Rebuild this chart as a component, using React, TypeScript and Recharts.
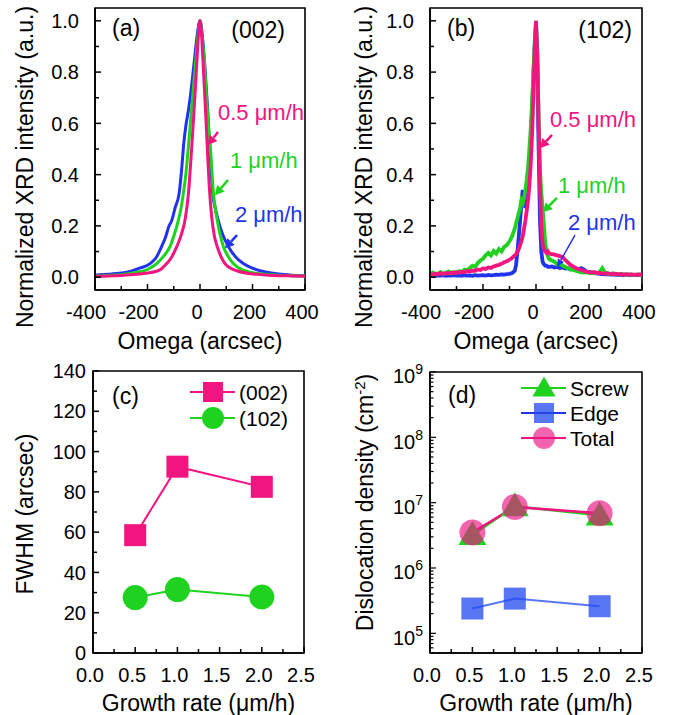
import React from 'react';
import { LineChart, Line, XAxis, YAxis, Label, Legend, ReferenceLine, ReferenceDot, ReferenceArea } from 'recharts';

const FONT = '"Liberation Sans", Arial, Helvetica, sans-serif';
const PINK = '#f2147f';
const GREEN = '#1fd21f';
const BLUE = '#2233ee';
const TICK_FS = 20;
const LABEL_FS = 23;
const ANNO_FS = 22;
const PANEL_FS = 23;

// ---------- Panel (a): (002) rocking curves ----------
const a05Omega = [-400, -350, -300, -250, -200, -170, -150, -127, -110, -89, -70, -57, -44, -32, -22, -12, -5, 0, 5, 12, 22, 28, 35, 44, 55, 66, 80, 95, 115, 140, 180, 220, 260, 300, 350, 400];
const a05Int = [0.004, 0.005, 0.007, 0.01, 0.016, 0.022, 0.03, 0.053, 0.075, 0.118, 0.17, 0.223, 0.327, 0.5, 0.66, 0.84, 0.96, 1.0, 0.96, 0.83, 0.63, 0.5, 0.36, 0.24, 0.16, 0.118, 0.08, 0.053, 0.036, 0.025, 0.015, 0.011, 0.008, 0.006, 0.005, 0.004];

const a1Omega = [-400, -350, -300, -250, -200, -165, -140, -114, -100, -83, -72, -63, -54, -45, -35, -25, -15, -7, 0, 7, 15, 25, 33, 40, 51, 58, 66, 78, 89, 108, 127, 150, 180, 220, 260, 300, 350, 400];
const a1Int = [0.005, 0.007, 0.01, 0.017, 0.03, 0.053, 0.08, 0.12, 0.16, 0.22, 0.27, 0.33, 0.4, 0.5, 0.62, 0.74, 0.86, 0.95, 1.0, 0.95, 0.86, 0.7, 0.58, 0.5, 0.33, 0.27, 0.22, 0.16, 0.12, 0.08, 0.053, 0.035, 0.022, 0.014, 0.01, 0.008, 0.006, 0.005];

const a2Omega = [-400, -350, -300, -267, -230, -190, -165, -146, -130, -118, -108, -95, -79, -70, -62, -54, -45, -35, -22, -10, 0, 10, 20, 30, 37, 42, 48, 58, 70, 85, 108, 135, 165, 200, 250, 300, 350, 400];
const a2Int = [0.008, 0.011, 0.016, 0.022, 0.035, 0.053, 0.08, 0.12, 0.16, 0.2, 0.22, 0.27, 0.33, 0.42, 0.52, 0.59, 0.645, 0.72, 0.84, 0.95, 1.0, 0.93, 0.8, 0.64, 0.5, 0.42, 0.33, 0.27, 0.22, 0.17, 0.12, 0.08, 0.053, 0.035, 0.02, 0.012, 0.008, 0.006];

// ---------- Panel (b): (102) rocking curves ----------
const bOmega = [-400, -390, -380, -370, -360, -350, -340, -330, -320, -310, -300, -290, -280, -270, -260, -250, -240, -230, -220, -210, -200, -190, -180, -170, -160, -150, -140, -130, -120, -110, -100, -90, -80, -75, -70, -65, -60, -55, -50, -45, -40, -35, -30, -25, -20, -15, -10, -5, 0, 5, 10, 15, 20, 25, 30, 35, 40, 45, 50, 60, 70, 80, 90, 100, 110, 120, 130, 140, 150, 160, 170, 180, 190, 200, 210, 220, 230, 240, 250, 260, 270, 280, 290, 300, 310, 320, 330, 340, 350, 360, 370, 380, 390, 400];
const b1Int = [0.012, 0.018, 0.01, 0.015, 0.02, 0.013, 0.017, 0.022, 0.015, 0.02, 0.018, 0.024, 0.02, 0.03, 0.028, 0.036, 0.045, 0.04, 0.055, 0.065, 0.072, 0.085, 0.095, 0.085, 0.102, 0.092, 0.11, 0.1, 0.118, 0.125, 0.14, 0.16, 0.19, 0.21, 0.23, 0.25, 0.27, 0.3, 0.29, 0.31, 0.34, 0.38, 0.43, 0.5, 0.58, 0.68, 0.8, 0.92, 1.0, 0.88, 0.62, 0.42, 0.33, 0.27, 0.2, 0.13, 0.1, 0.08, 0.07, 0.065, 0.06, 0.05, 0.055, 0.045, 0.04, 0.035, 0.03, 0.028, 0.025, 0.022, 0.02, 0.018, 0.02, 0.016, 0.018, 0.015, 0.017, 0.02, 0.035, 0.018, 0.014, 0.012, 0.015, 0.012, 0.01, 0.013, 0.011, 0.009, 0.012, 0.01, 0.008, 0.011, 0.01, 0.009];
const b05Int = [0.012, 0.01, 0.014, 0.011, 0.015, 0.013, 0.016, 0.014, 0.018, 0.015, 0.019, 0.017, 0.021, 0.019, 0.024, 0.022, 0.026, 0.025, 0.03, 0.028, 0.034, 0.032, 0.038, 0.036, 0.042, 0.045, 0.048, 0.052, 0.058, 0.062, 0.068, 0.075, 0.085, 0.09, 0.1, 0.11, 0.125, 0.14, 0.16, 0.19, 0.22, 0.26, 0.3, 0.36, 0.44, 0.55, 0.7, 0.88, 1.0, 0.86, 0.6, 0.36, 0.2, 0.13, 0.11, 0.1, 0.095, 0.1, 0.092, 0.09, 0.088, 0.085, 0.082, 0.078, 0.068, 0.058, 0.048, 0.042, 0.036, 0.032, 0.028, 0.025, 0.022, 0.02, 0.018, 0.02, 0.016, 0.017, 0.015, 0.014, 0.016, 0.013, 0.012, 0.014, 0.011, 0.012, 0.01, 0.012, 0.009, 0.011, 0.01, 0.009, 0.011, 0.01];
const b2Int = [0.006, 0.008, 0.005, 0.007, 0.006, 0.008, 0.005, 0.007, 0.006, 0.008, 0.006, 0.007, 0.005, 0.008, 0.006, 0.007, 0.005, 0.008, 0.006, 0.007, 0.008, 0.006, 0.009, 0.007, 0.008, 0.01, 0.009, 0.011, 0.01, 0.012, 0.013, 0.016, 0.025, 0.05, 0.1, 0.16, 0.22, 0.29, 0.34, 0.3, 0.27, 0.3, 0.36, 0.43, 0.52, 0.64, 0.78, 0.9, 0.98, 0.8, 0.5, 0.22, 0.1, 0.06, 0.05, 0.045, 0.045, 0.04, 0.04, 0.042, 0.038, 0.04, 0.036, 0.038, 0.034, 0.035, 0.03, 0.033, 0.03, 0.028, 0.035, 0.03, 0.022, 0.02, 0.018, 0.016, 0.015, 0.013, 0.012, 0.011, 0.012, 0.01, 0.011, 0.009, 0.01, 0.009, 0.008, 0.01, 0.009, 0.008, 0.009, 0.008, 0.009, 0.008];

// ---------- Panel (c): FWHM ----------
const growthRates = [0.5, 1.0, 2.0];
const fwhm002 = [58.5, 92.5, 82.5];
const fwhm102 = [27.5, 31.5, 27.8];

// ---------- Panel (d): dislocation density ----------
const screwDensity = [3.2e6, 8.8e6, 6.4e6];
const edgeDensity = [2.4e5, 3.4e5, 2.6e5];
const totalDensity = [3.5e6, 8.6e6, 6.9e6];

// ---------- ticks ----------
const omegaTicks = [-400, -300, -200, -100, 0, 100, 200, 300, 400];
const omegaMajor = [-400, -200, 0, 200, 400];
const intTicks = [0, 0.1, 0.2, 0.3, 0.4, 0.5, 0.6, 0.7, 0.8, 0.9, 1.0];
const intMajor = [0, 0.2, 0.4, 0.6, 0.8, 1.0];
const rateTicks = [0, 0.25, 0.5, 0.75, 1.0, 1.25, 1.5, 1.75, 2.0, 2.25, 2.5];
const rateMajor = [0, 0.5, 1.0, 1.5, 2.0, 2.5];
const fwhmTicks = [0, 10, 20, 30, 40, 50, 60, 70, 80, 90, 100, 110, 120, 130, 140];
const fwhmMajor = [0, 20, 40, 60, 80, 100, 120, 140];
const densTicks = [5e4, 6e4, 7e4, 8e4, 9e4, 1e5, 2e5, 3e5, 4e5, 5e5, 6e5, 7e5, 8e5, 9e5, 1e6, 2e6, 3e6, 4e6, 5e6, 6e6, 7e6, 8e6, 9e6, 1e7, 2e7, 3e7, 4e7, 5e7, 6e7, 7e7, 8e7, 9e7, 1e8, 2e8, 3e8, 4e8, 5e8, 6e8, 7e8, 8e8, 9e8, 1e9];
const densMajor = [1e5, 1e6, 1e7, 1e8, 1e9];

const zip = (xs: number[], ys: number[]) => xs.map((x, i) => ({ x, y: ys[i] }));
const dataA05 = zip(a05Omega, a05Int);
const dataA1 = zip(a1Omega, a1Int);
const dataA2 = zip(a2Omega, a2Int);
const dataB05 = zip(bOmega, b05Int);
const dataB1 = zip(bOmega, b1Int);
const dataB2 = zip(bOmega, b2Int);
const dataC = growthRates.map((r, i) => ({ rate: r, f002: fwhm002[i], f102: fwhm102[i] }));
const dataD = growthRates.map((r, i) => ({ rate: r, screw: screwDensity[i], edge: edgeDensity[i], total: totalDensity[i] }));

// annotations (data coordinates)
const annoA = [
  { text: '0.5 μm/h', color: PINK, tx: 68.6, ty: 0.645, from: { x: 68.6, y: 0.566 }, to: { x: 30.5, y: 0.516 } },
  { text: '1 μm/h', color: GREEN, tx: 114, ty: 0.457, from: { x: 106.7, y: 0.379 }, to: { x: 57, y: 0.32 } },
  { text: '2 μm/h', color: BLUE, tx: 133, ty: 0.246, from: { x: 141, y: 0.164 }, to: { x: 95, y: 0.113 } },
];
const annoB = [
  { text: '0.5 μm/h', color: PINK, tx: 52.8, ty: 0.617, from: { x: 60.4, y: 0.555 }, to: { x: 15, y: 0.504 } },
  { text: '1 μm/h', color: GREEN, tx: 83, ty: 0.36, from: { x: 79, y: 0.309 }, to: { x: 26.4, y: 0.254 } },
  { text: '2 μm/h', color: BLUE, tx: 120.8, ty: 0.215, from: { x: 147, y: 0.164 }, to: { x: 79, y: 0.039 }, thin: true },
];

const AXIS_LINE = { stroke: '#000', strokeWidth: 1.6 };

// ---------- tick renderers ----------
const XTick = (props: any) => {
  const { x, y, payload, majors, fmt } = props;
  const v = payload.value;
  const major = majors.includes(v);
  const dx = v < 0 ? -9 : -3;
  return (
    <g>
      <line x1={x} y1={y} x2={x} y2={y - (major ? 6 : 4)} stroke="#000" strokeWidth={1.5} />
      {major && (
        <text x={x + dx} y={y + 22} dy="0.36em" textAnchor="middle" fontSize={TICK_FS} fontFamily={FONT} fill="#000">
          {fmt(v)}
        </text>
      )}
    </g>
  );
};

const YTick = (props: any) => {
  const { x, y, payload, majors, fmt, gap } = props;
  const v = payload.value;
  const major = majors.includes(v);
  return (
    <g>
      <line x1={x} y1={y} x2={x + (major ? 6 : 4)} y2={y} stroke="#000" strokeWidth={1.5} />
      {major && (
        <text x={x - gap} y={y} dy="0.36em" textAnchor="end" fontSize={TICK_FS} fontFamily={FONT} fill="#000">
          {fmt(v)}
        </text>
      )}
    </g>
  );
};

const LogYTick = (props: any) => {
  const { x, y, payload, majors } = props;
  const v = payload.value;
  const major = majors.includes(v);
  const exp = Math.round(Math.log10(v));
  return (
    <g>
      <line x1={x} y1={y} x2={x + (major ? 6 : 3.5)} y2={y} stroke="#000" strokeWidth={1.2} />
      {major && (
        <text x={x - 7} y={y + 4} dy="0.36em" textAnchor="end" fontSize={TICK_FS} fontFamily={FONT} fill="#000">
          <tspan>10</tspan>
          <tspan dy={-9} fontSize={14}>{exp}</tspan>
        </text>
      )}
    </g>
  );
};

const fmt1 = (v: number) => v.toFixed(1);
const fmt0 = (v: number) => String(v);

// ---------- label renderers ----------
const xLabel = (text: string, dy: number) => (p: any) => {
  const vb = p.viewBox;
  return (
    <text x={vb.x + vb.width / 2} y={vb.y + dy} dy="0.36em" textAnchor="middle" fontSize={LABEL_FS} fontFamily={FONT} fill="#000">
      {text}
    </text>
  );
};

const yLabel = (content: React.ReactNode, cx: number, shift: number) => (p: any) => {
  const vb = p.viewBox;
  const x = vb.x + cx;
  const y = vb.y + vb.height / 2 + shift;
  return (
    <text x={x} y={y} dy="0.36em" textAnchor="middle" fontSize={LABEL_FS} fontFamily={FONT} fill="#000" transform={`rotate(-90 ${x} ${y})`}>
      {content}
    </text>
  );
};

// panel letters inside the frame (viewBox = plot frame)
const panelLabels = (left: string, right: string | null, lx: number, ly: number, rx: number, ry: number) => (p: any) => {
  const vb = p.viewBox;
  return (
    <g>
      <text x={vb.x + lx} y={vb.y + ly} dy="0.36em" fontSize={PANEL_FS} fontFamily={FONT} fill="#000">{left}</text>
      {right && (
        <text x={vb.x + vb.width - rx} y={vb.y + ry} dy="0.36em" textAnchor="end" fontSize={PANEL_FS} fontFamily={FONT} fill="#000">{right}</text>
      )}
    </g>
  );
};

// ---------- annotation shapes ----------
const arrowShape = (color: string, thin?: boolean) => (p: any) => {
  const { x1, y1, x2, y2 } = p;
  const ang = Math.atan2(y2 - y1, x2 - x1);
  const head = thin ? 8 : 9;
  const hw = thin ? 3.5 : 5;
  const hx = x2 - head * Math.cos(ang);
  const hy = y2 - head * Math.sin(ang);
  const px = -Math.sin(ang) * hw;
  const py = Math.cos(ang) * hw;
  return (
    <g>
      <line x1={x1} y1={y1} x2={hx} y2={hy} stroke={color} strokeWidth={thin ? 1.5 : 2.5} />
      <polygon points={`${x2},${y2} ${hx + px},${hy + py} ${hx - px},${hy - py}`} fill={color} />
    </g>
  );
};

const textShape = (text: string, color: string) => (p: any) => (
  <text x={p.cx} y={p.cy} dy="0.36em" fill={color} fontSize={ANNO_FS} fontFamily={FONT}>{text}</text>
);

const renderAnnotations = (list: any[]) => {
  const out: any[] = [];
  list.forEach((a, i) => {
    out.push(
      <ReferenceLine key={`al${i}`} segment={[a.from, a.to]} stroke={a.color} shape={arrowShape(a.color, a.thin)} ifOverflow="visible" />
    );
    out.push(<ReferenceDot key={`at${i}`} x={a.tx} y={a.ty} r={0} shape={textShape(a.text, a.color)} ifOverflow="visible" />);
  });
  return out;
};

// ---------- markers ----------
const Square = (size: number, fill: string) => (p: any) => {
  if (p.cx == null || p.cy == null) return <g key={p.index} />;
  return <rect key={p.index} x={p.cx - size / 2} y={p.cy - size / 2} width={size} height={size} fill={fill} />;
};
const Circle = (r: number, fill: string) => (p: any) => {
  if (p.cx == null || p.cy == null) return <g key={p.index} />;
  return <circle key={p.index} cx={p.cx} cy={p.cy} r={r} fill={fill} />;
};
const Triangle = (w: number, h: number, fill: string) => (p: any) => {
  if (p.cx == null || p.cy == null) return <g key={p.index} />;
  const top = p.cy - h * 0.58;
  const bot = p.cy + h * 0.42;
  return <polygon key={p.index} points={`${p.cx},${top} ${p.cx - w / 2},${bot} ${p.cx + w / 2},${bot}`} fill={fill} />;
};

const PINK_T = 'rgba(236,22,132,0.66)';
const BLUE_T = 'rgba(35,75,240,0.76)';

// ---------- legends ----------
const legendC = [
  { name: '(002)', color: PINK, marker: 'square' },
  { name: '(102)', color: GREEN, marker: 'circle' },
];
const legendD = [
  { name: 'Screw', color: GREEN, fill: GREEN, marker: 'triangle' },
  { name: 'Edge', color: BLUE, fill: BLUE_T, marker: 'square' },
  { name: 'Total', color: PINK, fill: PINK_T, marker: 'circle' },
];

const LegendMarker = ({ kind, cx, cy, fill, size }: any) => {
  if (kind === 'square') return <rect x={cx - size / 2} y={cy - size / 2} width={size} height={size} fill={fill} />;
  if (kind === 'circle') return <circle cx={cx} cy={cy} r={size / 2 + 1} fill={fill} />;
  const h = size;
  return <polygon points={`${cx},${cy - h * 0.58} ${cx - size * 0.58},${cy + h * 0.42} ${cx + size * 0.58},${cy + h * 0.42}`} fill={fill} />;
};

const legendContent = (items: any[], rowGap: number, firstY: number, size: number) => () => (
  <svg width={140} height={95} style={{ overflow: 'visible' }}>
    {items.map((it, i) => {
      const y = firstY + i * rowGap;
      return (
        <g key={it.name}>
          <line x1={10} y1={y} x2={55} y2={y} stroke={it.color} strokeWidth={2} />
          <LegendMarker kind={it.marker} cx={33} cy={y} fill={it.fill || it.color} size={size} />
          <text x={59} y={y} dy="0.36em" fontSize={21} fontFamily={FONT} fill="#000">{it.name}</text>
        </g>
      );
    })}
  </svg>
);

const Frame = ({ x, y, content }: any) => (
  <ReferenceArea x1={x[0]} x2={x[1]} y1={y[0]} y2={y[1]} fill="none" fillOpacity={0} stroke="#000" strokeWidth={1.6}
    ifOverflow="visible" label={content} />
);

const abs = (left: number, top: number): React.CSSProperties => ({ position: 'absolute', left, top });

export default function App() {
  return (
    <div style={{ position: 'absolute', left: 0, top: 0, width: 673, height: 715, background: '#fff', fontFamily: FONT }}>
      {/* (a) */}
      <div style={abs(0, 0)}>
        <LineChart width={336} height={360} margin={{ top: 8, right: 31, bottom: 0, left: 0 }}>
          <XAxis dataKey="x" type="number" domain={[-400, 400]} ticks={omegaTicks} interval={0} allowDataOverflow height={70}
            tickSize={0} tickMargin={0} tickLine={false} axisLine={AXIS_LINE}
            tick={<XTick majors={omegaMajor} fmt={fmt0} />}>
            <Label content={xLabel('Omega (arcsec)', 51)} />
          </XAxis>
          <YAxis type="number" domain={[-0.05, 1.05]} ticks={intTicks} interval={0} allowDataOverflow width={95}
            tickSize={0} tickMargin={0} tickLine={false} axisLine={AXIS_LINE}
            tick={<YTick majors={intMajor} fmt={fmt1} gap={16} />}>
            <Label content={yLabel('Normalized XRD intensity (a.u.)', 25, 18)} />
          </YAxis>
          {Frame({ x: [-400, 400], y: [-0.05, 1.05], content: panelLabels('(a)', '(002)', 17, 20, 20, 22) })}
          <Line data={dataA2} dataKey="y" type="monotone" stroke={BLUE} strokeWidth={3} dot={false} activeDot={false} isAnimationActive={false} />
          <Line data={dataA1} dataKey="y" type="monotone" stroke={GREEN} strokeWidth={3} dot={false} activeDot={false} isAnimationActive={false} />
          <Line data={dataA05} dataKey="y" type="monotone" stroke={PINK} strokeWidth={3} dot={false} activeDot={false} isAnimationActive={false} />
          {renderAnnotations(annoA)}
        </LineChart>
      </div>

      {/* (b) */}
      <div style={abs(336, 0)}>
        <LineChart width={337} height={360} margin={{ top: 8, right: 31, bottom: 0, left: 0 }}>
          <XAxis dataKey="x" type="number" domain={[-400, 400]} ticks={omegaTicks} interval={0} allowDataOverflow height={70}
            tickSize={0} tickMargin={0} tickLine={false} axisLine={AXIS_LINE}
            tick={<XTick majors={omegaMajor} fmt={fmt0} />}>
            <Label content={xLabel('Omega (arcsec)', 51)} />
          </XAxis>
          <YAxis type="number" domain={[-0.05, 1.05]} ticks={intTicks} interval={0} allowDataOverflow width={94}
            tickSize={0} tickMargin={0} tickLine={false} axisLine={AXIS_LINE}
            tick={<YTick majors={intMajor} fmt={fmt1} gap={16} />}>
            <Label content={yLabel('Normalized XRD intensity (a.u.)', 28, 18)} />
          </YAxis>
          {Frame({ x: [-400, 400], y: [-0.05, 1.05], content: panelLabels('(b)', '(102)', 17, 20, 10, 22) })}
          <Line data={dataB2} dataKey="y" type="linear" stroke={BLUE} strokeWidth={3.8} dot={false} activeDot={false} isAnimationActive={false} />
          <Line data={dataB1} dataKey="y" type="linear" stroke={GREEN} strokeWidth={3.8} dot={false} activeDot={false} isAnimationActive={false} />
          <Line data={dataB05} dataKey="y" type="linear" stroke={PINK} strokeWidth={3.8} dot={false} activeDot={false} isAnimationActive={false} />
          {renderAnnotations(annoB)}
        </LineChart>
      </div>

      {/* (c) */}
      <div style={abs(0, 360)}>
        <LineChart width={336} height={355} data={dataC} margin={{ top: 11, right: 32, bottom: 0, left: 0 }}>
          <XAxis dataKey="rate" type="number" domain={[0, 2.5]} ticks={rateTicks} interval={0} allowDataOverflow height={62}
            tickSize={0} tickMargin={0} tickLine={false} axisLine={AXIS_LINE}
            tick={<XTick majors={rateMajor} fmt={fmt1} />}>
            <Label content={xLabel('Growth rate (μm/h)', 50)} />
          </XAxis>
          <YAxis type="number" domain={[0, 140]} ticks={fwhmTicks} interval={0} allowDataOverflow width={93}
            tickSize={0} tickMargin={0} tickLine={false} axisLine={AXIS_LINE}
            tick={<YTick majors={fwhmMajor} fmt={fmt0} gap={7} />}>
            <Label content={yLabel('FWHM (arcsec)', 25, 2)} />
          </YAxis>
          {Frame({ x: [0, 2.5], y: [0, 140], content: panelLabels('(c)', null, 19, 25, 0, 0) })}
          <Line dataKey="f002" name="(002)" type="linear" stroke={PINK} strokeWidth={2} dot={Square(22, PINK)} activeDot={false} isAnimationActive={false} />
          <Line dataKey="f102" name="(102)" type="linear" stroke={GREEN} strokeWidth={2} dot={Circle(12.5, GREEN)} activeDot={false} isAnimationActive={false} />
          <Legend layout="horizontal" verticalAlign="middle" align="center"
            wrapperStyle={{ position: 'absolute', left: 180, top: 14, width: 140, height: 95 }}
            content={legendContent(legendC, 26, 18, 20)} />
        </LineChart>
      </div>

      {/* (d) */}
      <div style={abs(336, 360)}>
        <LineChart width={337} height={355} data={dataD} margin={{ top: 12, right: 31, bottom: 0, left: 0 }}>
          <XAxis dataKey="rate" type="number" domain={[0, 2.5]} ticks={rateTicks} interval={0} allowDataOverflow height={62}
            tickSize={0} tickMargin={0} tickLine={false} axisLine={AXIS_LINE}
            tick={<XTick majors={rateMajor} fmt={fmt1} />}>
            <Label content={xLabel('Growth rate (μm/h)', 50)} />
          </XAxis>
          <YAxis type="number" scale="log" domain={[5e4, 1e9]} ticks={densTicks} interval={0} allowDataOverflow width={94}
            tickSize={0} tickMargin={0} tickLine={false} axisLine={AXIS_LINE}
            tick={<LogYTick majors={densMajor} />}>
            <Label content={yLabel(
              <>
                <tspan>Dislocation density (cm</tspan>
                <tspan dy={-8} fontSize={15}>-2</tspan>
                <tspan dy={8}>)</tspan>
              </>, 29, -10)} />
          </YAxis>
          {Frame({ x: [0, 2.5], y: [5e4, 1e9], content: panelLabels('(d)', null, 18, 23, 0, 0) })}
          <Line dataKey="screw" name="Screw" type="linear" stroke={GREEN} strokeWidth={2.5} dot={Triangle(28, 24, GREEN)} activeDot={false} isAnimationActive={false} />
          <Line dataKey="edge" name="Edge" type="linear" stroke={BLUE_T} strokeWidth={2} dot={Square(22, BLUE_T)} activeDot={false} isAnimationActive={false} />
          <Line dataKey="total" name="Total" type="linear" stroke={PINK} strokeWidth={2.5} dot={Circle(13, PINK_T)} activeDot={false} isAnimationActive={false} />
          <Legend layout="horizontal" verticalAlign="middle" align="center"
            wrapperStyle={{ position: 'absolute', left: 175, top: 10, width: 140, height: 95 }}
            content={legendContent(legendD, 25, 18, 20)} />
        </LineChart>
      </div>
    </div>
  );
}
